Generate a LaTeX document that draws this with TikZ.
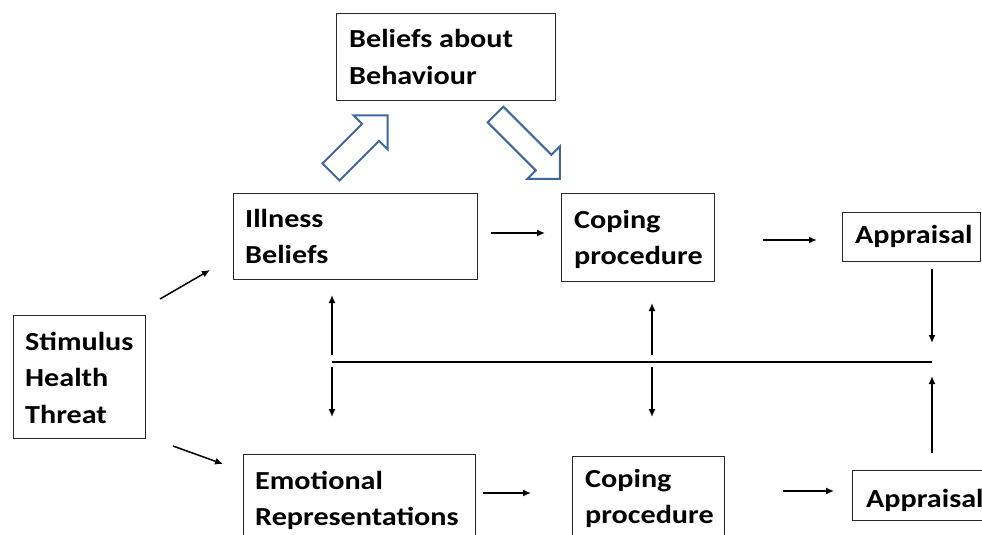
\documentclass[tikz,border=0pt]{standalone}
\usepackage{fontspec}
\setmainfont{Carlito}[FakeStretch=1.16]
\usetikzlibrary{arrows.meta,calc}
\definecolor{hollowblue}{RGB}{62,104,156}
\definecolor{boxline}{RGB}{40,40,40}
\newcommand\mlines[1]{\begin{tabular}[t]{@{}l@{}}#1\end{tabular}}
\tikzset{
  box/.style={draw=boxline, line width=1.3pt, rectangle, inner sep=0pt, anchor=north west},
  txt/.style={inner sep=0pt, anchor=base west, font=\fontsize{26}{36.5}\selectfont\bfseries},
  arr/.style={line width=1.5pt, -{Latex[length=8pt,width=7pt]}},
  plain/.style={line width=1.5pt},
  hollow/.style={draw=hollowblue, line width=2pt, line join=miter, fill=white}
}
\begin{document}
\begin{tikzpicture}[x=1pt,y=-1pt]
\useasboundingbox (0,0) rectangle (982,535);
\clip (0,0) rectangle (982,535);
% boxes
\node[box, minimum width=219, minimum height=87] (bab) at (336,13) {};
\node[box, minimum width=244, minimum height=86] (ill) at (233,193) {};
\node[box, minimum width=153, minimum height=88] (cop1) at (561,193) {};
\node[box, minimum width=138, minimum height=49] (app1) at (842,212) {};
\node[box, minimum width=132, minimum height=123] (stim) at (13,315) {};
\node[box, minimum width=232, minimum height=120] (emo) at (243,454) {};
\node[box, minimum width=152, minimum height=120] (cop2) at (572,456) {};
\node[box, minimum width=140, minimum height=50] (app2) at (852,470) {};
% texts
\node[txt] (tbab) at (349,48) {\mlines{Beliefs about\\Behaviour}};
\node[txt] (till) at (245,227) {\mlines{Illness\\Beliefs}};
\node[txt] (tcop1) at (574,228) {\mlines{Coping\\procedure}};
\node[txt] (tapp1) at (855,243) {Appraisal};
\node[txt] (tstim) at (25,350) {\mlines{Stimulus\\Health\\Threat}};
\node[txt] (temo) at (255,489) {\mlines{Emotional\\Representations}};
\node[txt] (tcop2) at (585,487) {\mlines{Coping\\procedure}};
\node[txt] (tapp2) at (866,507) {Appraisal};
% connector end points
\coordinate (s1a) at (160,299);  \coordinate (s1b) at (210,270);
\coordinate (s2a) at (173,446);  \coordinate (s2b) at (223,464);
\coordinate (ic1) at (491,233);  \coordinate (ic2) at (545,233);
\coordinate (ca1) at (763,240);  \coordinate (ca2) at (817,240);
\coordinate (ec1) at (483,493);  \coordinate (ec2) at (531,493);
\coordinate (ca3) at (783,491);  \coordinate (ca4) at (834,491);
\coordinate (a1a) at (932,269);  \coordinate (a1b) at (932,343);
\coordinate (a2a) at (932,453);  \coordinate (a2b) at (932,376);
\coordinate (hl1) at (332,362);  \coordinate (hl2) at (932,362);
\coordinate (v1a) at (332,355);  \coordinate (v1b) at (332,295);
\coordinate (v1c) at (332,367);  \coordinate (v1d) at (332,417);
\coordinate (v2a) at (652,355);  \coordinate (v2b) at (652,303);
\coordinate (v2c) at (652,367);  \coordinate (v2d) at (652,417);
% connectors
\draw[arr] (s1a) -- (s1b);
\draw[arr] (s2a) -- (s2b);
\draw[arr] (ic1) -- (ic2);
\draw[arr] (ca1) -- (ca2);
\draw[arr] (ec1) -- (ec2);
\draw[arr] (ca3) -- (ca4);
\draw[arr] (a1a) -- (a1b);
\draw[arr] (a2a) -- (a2b);
\draw[plain] (hl1) -- (hl2);
\draw[arr] (v1a) -- (v1b);
\draw[arr] (v1c) -- (v1d);
\draw[arr] (v2a) -- (v2b);
\draw[arr] (v2c) -- (v2d);
% hollow block arrows
\draw[hollow] (339.5,180.5) -- (379.1,140.9) -- (387.6,149.4) -- (387.6,115.4)
  -- (353.6,115.4) -- (362.1,123.9) -- (322.5,163.5) -- cycle;
\draw[hollow] (503.3,106.7) -- (551.4,154.8) -- (559.9,146.3) -- (559.8,178.8)
  -- (527.3,178.9) -- (535.8,170.4) -- (487.7,122.3) -- cycle;
\end{tikzpicture}
\end{document}
